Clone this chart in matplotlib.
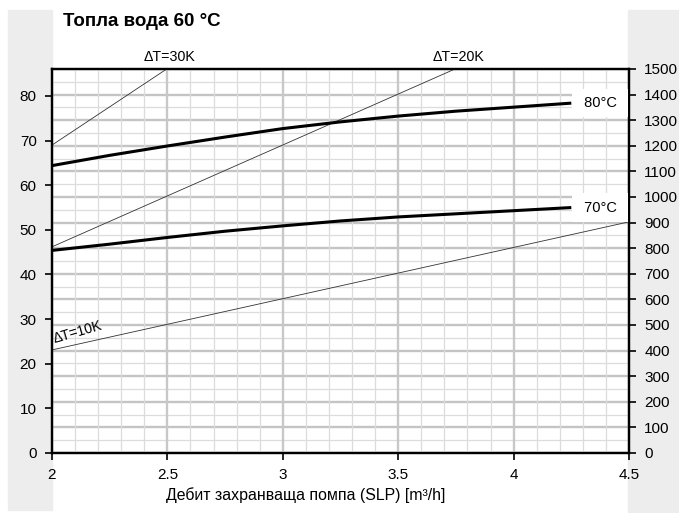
import numpy as np
import matplotlib
matplotlib.use('Agg')
import matplotlib.pyplot as plt
from matplotlib.patches import Rectangle
from matplotlib.ticker import MultipleLocator

plt.rcParams['font.family'] = ['Liberation Sans', 'DejaVu Sans']

# flow of the charging pump [m3/h]
flow = [2.0, 2.25, 2.5, 2.75, 3.0, 3.25, 3.5, 3.75, 4.0, 4.25]
# power curves [kW] for 80 and 70 deg C primary
p80 = [64.4, 66.7, 68.8, 70.8, 72.7, 74.2, 75.5, 76.6, 77.5, 78.4]
p70 = [45.4, 46.8, 48.3, 49.7, 50.9, 52.0, 52.9, 53.6, 54.3, 55.0]

# delta T reference lines (start/end)
dt30_x = [2.0, 2.497]
dt30_y = [69.0, 86.05]
dt20_x = [2.0, 3.746]
dt20_y = [46.2, 86.05]
dt10_x = [2.0, 4.5]
dt10_y = [23.1, 51.8]

left_ticks = [0, 10, 20, 30, 40, 50, 60, 70, 80]
right_ticks = list(range(0, 1501, 100))
x_ticks = [2, 2.5, 3, 3.5, 4, 4.5]

fig = plt.figure(figsize=(6.79, 5.13), dpi=100)

# grey side strips
fig.patches.append(Rectangle((8 / 679, 3 / 513), 44 / 679, 500 / 513,
                             transform=fig.transFigure, color='#ededed', zorder=-10))
fig.patches.append(Rectangle((628 / 679, 0), 51 / 679, 503 / 513,
                             transform=fig.transFigure, color='#ededed', zorder=-10))

ax = fig.add_axes([52 / 679, 1 - 453 / 513, 577 / 679, 384 / 513])
ax2 = ax.twinx()
ax.set_zorder(ax2.get_zorder() + 1)
ax.patch.set_visible(False)
ax2.patch.set_facecolor('white')

ax.set_xlim(2, 4.5)
ax.set_ylim(0, 86.05)
ax2.set_ylim(0, 1500)

# horizontal grid follows the right axis
ax2.yaxis.set_major_locator(MultipleLocator(100))
ax2.yaxis.set_minor_locator(MultipleLocator(50))
ax2.grid(axis='y', which='major', color='#c4c4c4', lw=1.7)
ax2.grid(axis='y', which='minor', color='#dcdcdc', lw=0.9)

# vertical grid on the main axes (below its lines)
ax.set_axisbelow(True)
ax.xaxis.set_major_locator(MultipleLocator(0.5))
ax.xaxis.set_minor_locator(MultipleLocator(0.1))
ax.grid(axis='x', which='major', color='#c8c8c8', lw=1.7)
ax.grid(axis='x', which='minor', color='#dcdcdc', lw=0.9)

ax.set_xticks(x_ticks)
ax.set_xticklabels(['2', '2.5', '3', '3.5', '4', '4.5'])
ax.set_yticks(left_ticks)
ax2.set_yticks(right_ticks)
ax.tick_params(axis='both', which='major', labelsize=11, length=5, width=1.2,
               direction='out', pad=6, colors='black')
ax.tick_params(axis='x', which='minor', length=0)
ax2.tick_params(axis='y', which='major', labelsize=11, length=5, width=1.2,
                direction='out', pad=6)
ax2.tick_params(axis='y', which='minor', length=0)

for a in (ax, ax2):
    for s in a.spines.values():
        s.set_linewidth(1.6)
        s.set_color('black')

# delta T lines
for xs, ys in [(dt30_x, dt30_y), (dt20_x, dt20_y), (dt10_x, dt10_y)]:
    ax.plot(xs, ys, color='#333333', lw=0.6)

# main curves
ax.plot(flow, p80, color='black', lw=2.2, solid_capstyle='butt')
ax.plot(flow, p70, color='black', lw=2.2, solid_capstyle='butt')

box = dict(boxstyle='square,pad=0.5', fc='white', ec='none')
ax.text(4.375, p80[-1], ' 80°C ', ha='center', va='center', fontsize=10.5, bbox=box, zorder=5)
ax.text(4.375, p70[-1], ' 70°C ', ha='center', va='center', fontsize=10.5, bbox=box, zorder=5)

trans = ax.get_xaxis_transform()
ax.text(2.51, 1.031, 'ΔT=30K', transform=trans, ha='center', va='center', fontsize=10.3)
ax.text(3.763, 1.031, 'ΔT=20K', transform=trans, ha='center', va='center', fontsize=10.3)
ax.text(2.015, 23.9, 'ΔT=10K', ha='left', va='bottom', fontsize=10,
        rotation=16, rotation_mode='anchor')

fig.text(63 / 679, 1 - 21 / 513, 'Топла вода 60 °C', ha='left', va='center',
         fontsize=13.5, fontweight='bold')
fig.text(306 / 679, 1 - 495 / 513, 'Дебит захранваща помпа (SLP) [m³/h]',
         ha='center', va='center', fontsize=11.4)

fig.savefig('out.png', dpi=100)
